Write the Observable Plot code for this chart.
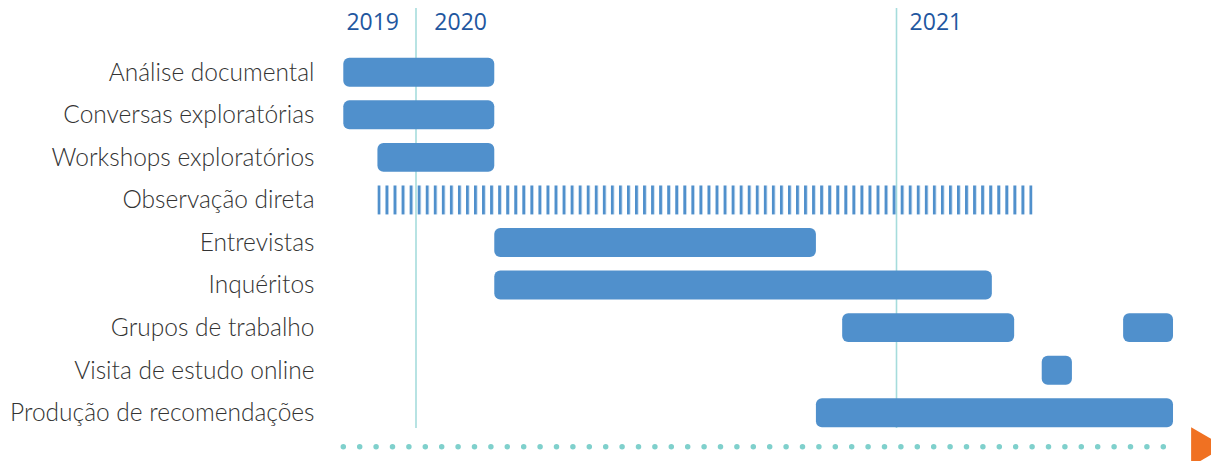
<!DOCTYPE html>
<html>
<head>
<meta charset="utf-8">
<script src="https://cdn.jsdelivr.net/npm/d3@7"></script>
<script src="https://cdn.jsdelivr.net/npm/@observablehq/plot@0.6"></script>
<style>
  html, body { margin: 0; padding: 0; background: #fff; }
  #chart svg { display: block; overflow: visible; }
</style>
</head>
<body>
<div id="chart"></div>
<script>
// Row categories (top to bottom)
const tasks = [
  "Análise documental",
  "Conversas exploratórias",
  "Workshops exploratórios",
  "Observação direta",
  "Entrevistas",
  "Inquéritos",
  "Grupos de trabalho",
  "Visita de estudo online",
  "Produção de recomendações"
];
const timelineRow = "timeline";

// Solid bars
const barTasks = [
  "Análise documental", "Conversas exploratórias", "Workshops exploratórios",
  "Entrevistas", "Inquéritos", "Grupos de trabalho", "Grupos de trabalho",
  "Visita de estudo online", "Produção de recomendações"
];
const barStarts = [
  "2019-11-07", "2019-11-07", "2019-12-03",
  "2020-03-01", "2020-03-01", "2020-11-21", "2021-06-23",
  "2021-04-22", "2020-11-01"
];
const barEnds = [
  "2020-03-01", "2020-03-01", "2020-03-01",
  "2020-11-01", "2021-03-15", "2021-04-01", "2021-07-31",
  "2021-05-15", "2021-07-31"
];

// Striped (intermittent) activity
const stripedTask = ["Observação direta"];
const stripedStart = ["2019-12-03"];
const stripedEnd = ["2021-04-15"];

// Year markers
const yearLines = ["2020-01-01", "2021-01-01"];
const yearLabels = ["2019", "2020", "2021"];
const yearLabelDates = ["2019-11-29", "2020-02-04", "2021-01-31"];

// Timeline arrow
const timelineStart = ["2019-11-07"];
const timelineEnd = ["2021-08-05"];
const arrowDate = ["2021-08-22"];

const D = s => new Date(s + "T00:00:00Z");

const bars = barTasks.map((t, i) => ({task: t, start: D(barStarts[i]), end: D(barEnds[i])}));
const striped = stripedTask.map((t, i) => ({task: t, start: D(stripedStart[i]), end: D(stripedEnd[i])}));
const years = yearLabels.map((y, i) => ({label: y, date: D(yearLabelDates[i])}));

const BLUE = "#5090cc";
const TEAL = "#a6dcdc";

const rightTriangle = {
  draw(context, size) {
    const s = Math.sqrt(size * 4 / Math.sqrt(3));
    const h = s * Math.sqrt(3) / 2;
    context.moveTo(-h / 3, -s / 2);
    context.lineTo(2 * h / 3, 0);
    context.lineTo(-h / 3, s / 2);
    context.closePath();
  }
};

const plot = Plot.plot({
  width: 1211,
  height: 461,
  marginTop: 8,
  marginBottom: 33,
  marginLeft: 316,
  marginRight: 0,
  style: {background: "transparent"},
  x: {type: "utc", domain: [D("2020-01-01"), D("2021-01-01")], range: [415.5, 896], axis: null},
  y: {type: "band", domain: [...tasks, timelineRow], range: [51, 476.6], paddingInner: 0.32, paddingOuter: 0.16, align: 0.5, round: false, axis: null},
  marks: [
    Plot.ruleX(yearLines.map(D), {stroke: TEAL, strokeWidth: 1.6}),
    Plot.barX(bars, {x1: "start", x2: "end", y: "task", fill: BLUE, rx: 6}),
    Plot.barX(striped, {x1: "start", x2: "end", y: "task", fill: "url(#stripes)"}),
    Plot.ruleY([timelineRow], {
      x1: () => D(timelineStart[0]), x2: () => D(timelineEnd[0]),
      dy: -9, stroke: "#7fd0cc", strokeWidth: 5.5,
      strokeDasharray: "0 16.4", strokeLinecap: "round"
    }),
    Plot.dot(arrowDate.map(D), {x: d => d, y: () => timelineRow, dy: -9, symbol: rightTriangle, r: 14.5, fill: "#f07122", stroke: null}),
    Plot.axisY(tasks, {
      anchor: "left", tickSize: 0, tickPadding: 2, label: null,
      fontSize: 24.5, fill: "#333333",
      fontFamily: "Lato", fontWeight: 300
    }),
    Plot.text(years, {
      x: "date", text: "label", frameAnchor: "top", lineAnchor: "middle", dy: 14.5,
      fontSize: 23, fill: "#1f57a0", fontFamily: "Open Sans"
    })
  ]
});

// stripe pattern for intermittent bar
const sx = plot.scale("x").apply(D(stripedStart[0]));
const ns = "http://www.w3.org/2000/svg";
const defs = document.createElementNS(ns, "defs");
const pat = document.createElementNS(ns, "pattern");
pat.setAttribute("id", "stripes");
pat.setAttribute("patternUnits", "userSpaceOnUse");
pat.setAttribute("x", sx);
pat.setAttribute("y", 0);
pat.setAttribute("width", 8.05);
pat.setAttribute("height", 10);
const r = document.createElementNS(ns, "rect");
r.setAttribute("x", 0); r.setAttribute("y", 0);
r.setAttribute("width", 3); r.setAttribute("height", 10);
r.setAttribute("fill", BLUE);
pat.appendChild(r);
defs.appendChild(pat);
plot.insertBefore(defs, plot.firstChild);

document.getElementById("chart").appendChild(plot);
</script>
</body>
</html>
